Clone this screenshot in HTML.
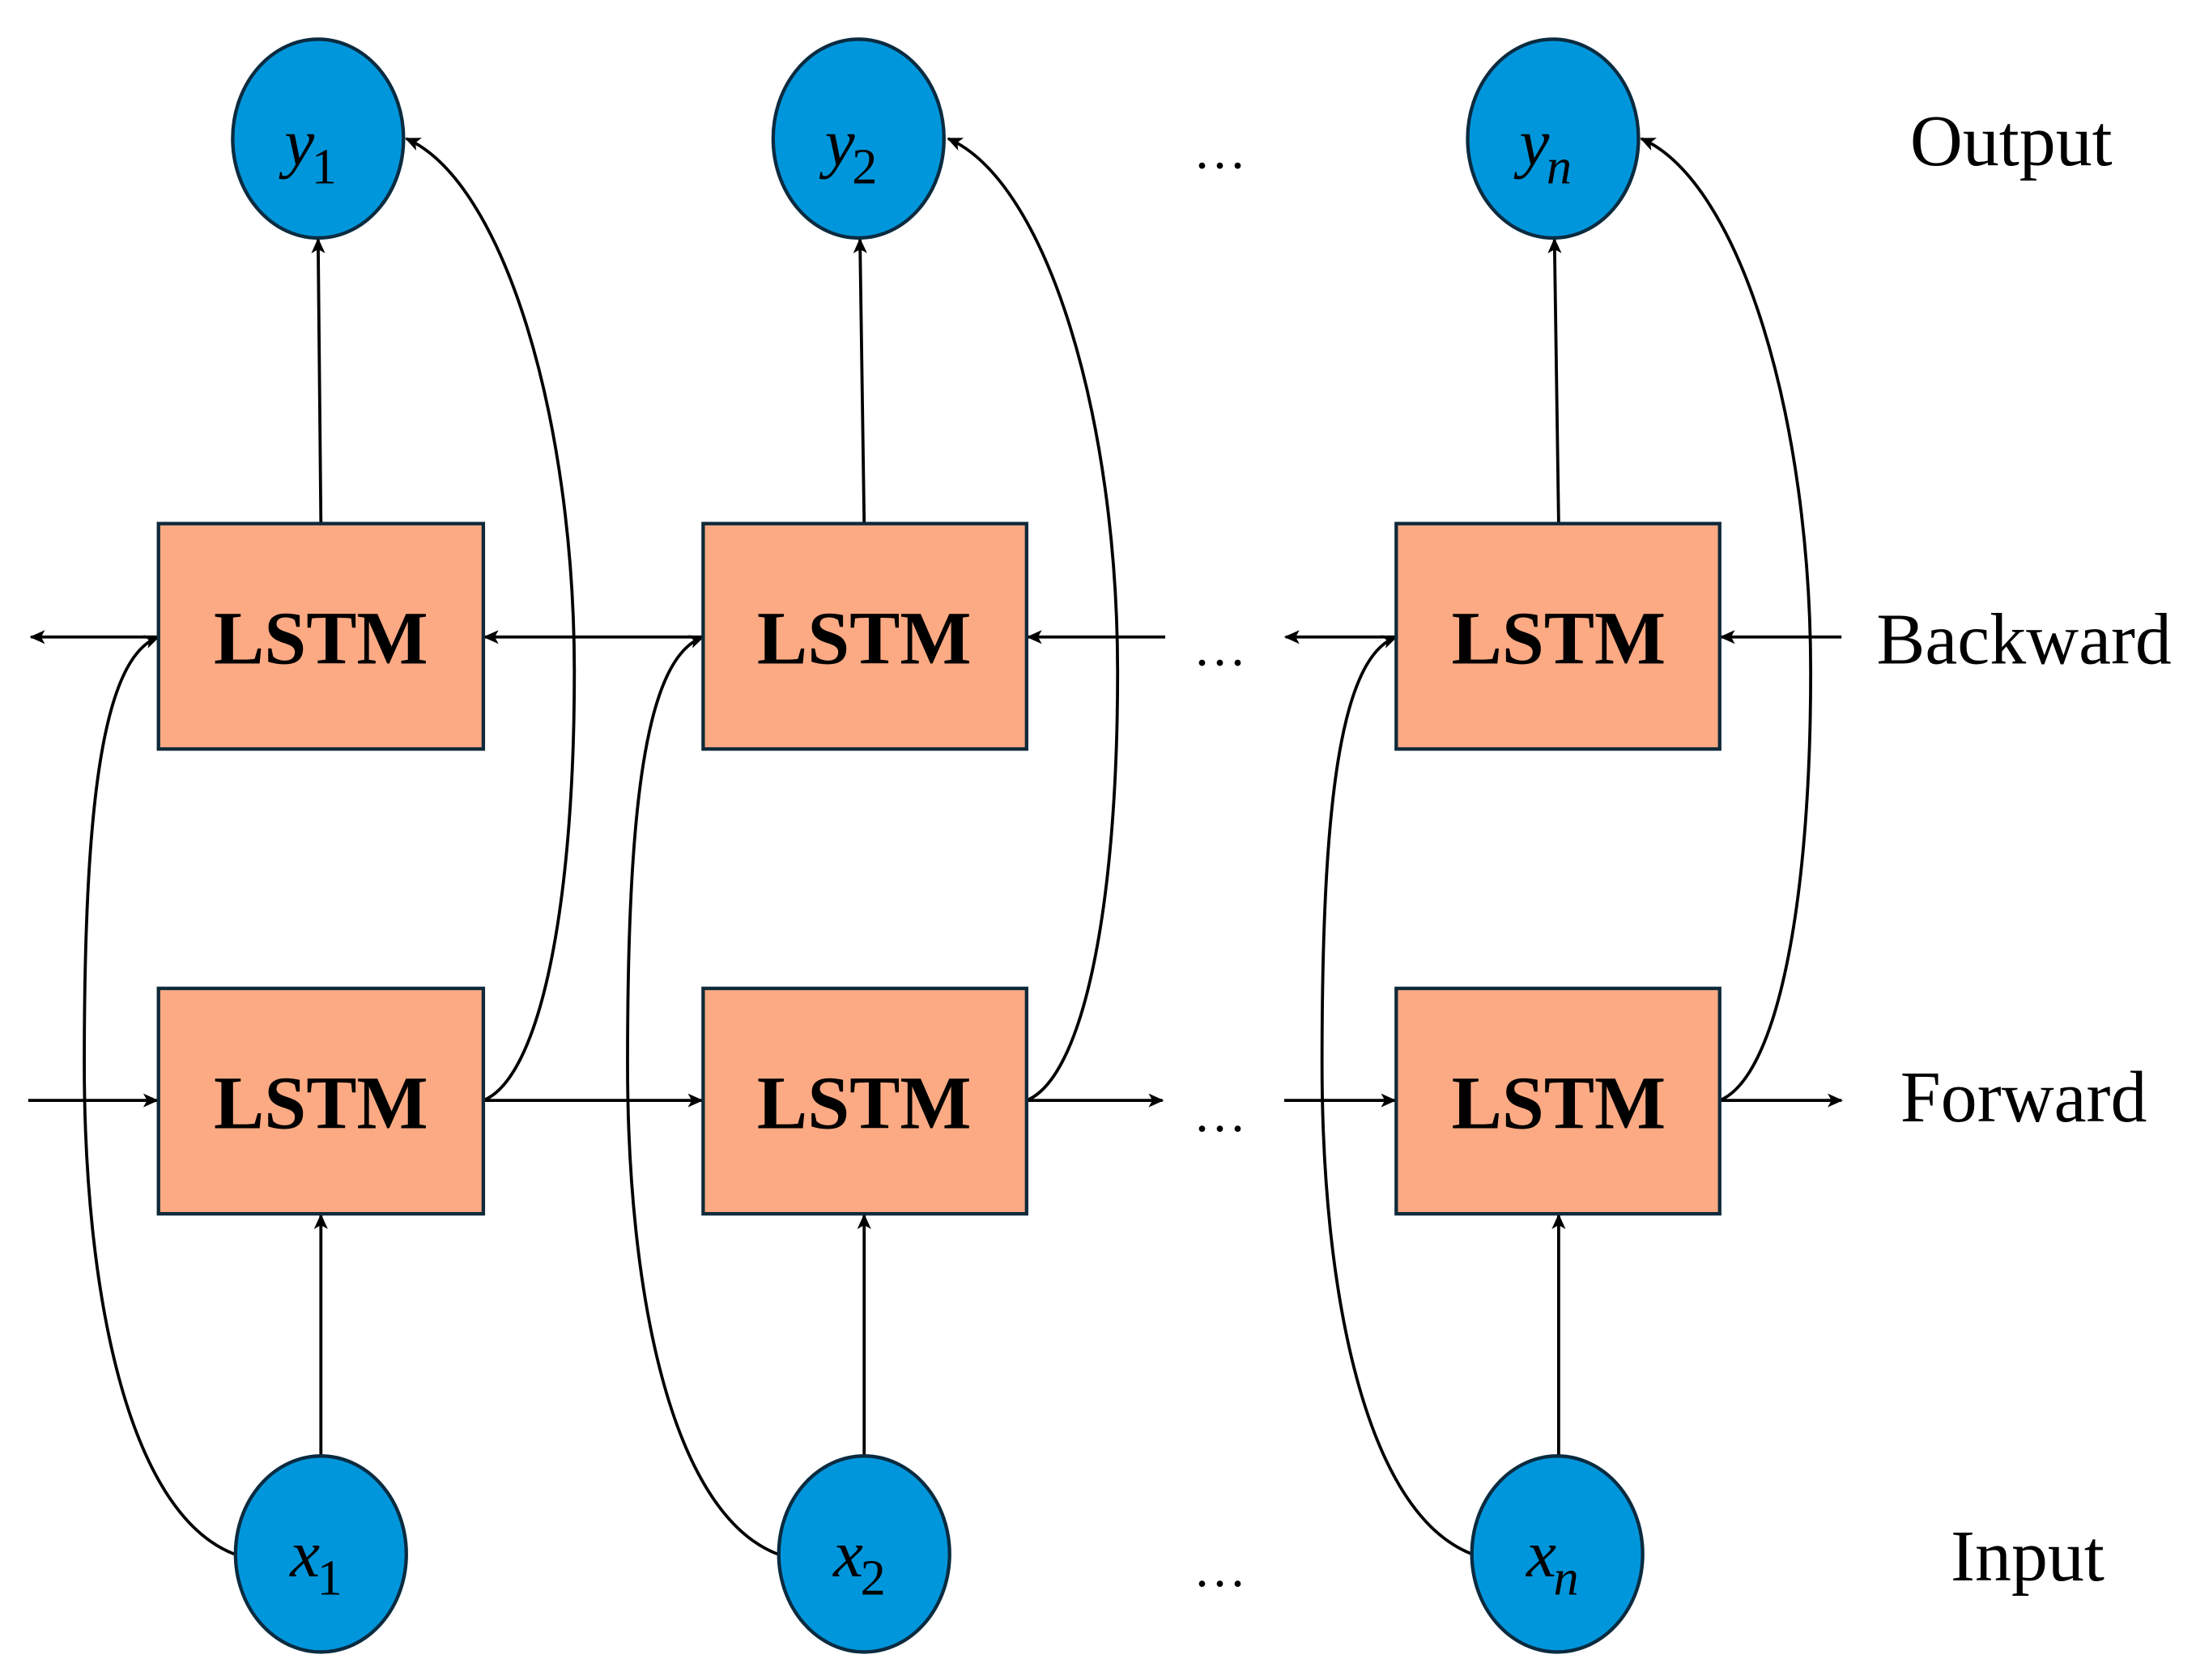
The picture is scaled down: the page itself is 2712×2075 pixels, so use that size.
<!DOCTYPE html>
<html><head><meta charset="utf-8"><style>html,body{margin:0;padding:0;background:#fff}svg{display:block}</style></head>
<body>
<svg width="2712" height="2075" viewBox="0 0 1568 1200" xmlns="http://www.w3.org/2000/svg" font-family="'Liberation Serif', serif">
<defs>
<marker id="a" viewBox="0 0 10 10" refX="9" refY="5" markerWidth="11" markerHeight="11" orient="auto-start-reverse" markerUnits="userSpaceOnUse">
<path d="M0,0.5 L10,5 L0,9.5 L2.5,5 z" fill="#000"/></marker>
</defs>
<rect width="1568" height="1200" fill="#fff"/>
<g stroke="#000" stroke-width="2.2" fill="none" marker-end="url(#a)">
<path d="M229,374 L227,171"/><path d="M617,374 L614,171"/><path d="M1113,374 L1110,171"/>
<path d="M229,1040 L229,868"/><path d="M617,1040 L617,868"/><path d="M1113,1040 L1113,868"/>
<path d="M20,786 L112,786"/><path d="M345,786 L501,786"/><path d="M733,786 L830,786"/><path d="M917,786 L996,786"/><path d="M1228,786 L1315,786"/>
<path d="M113,455 L22,455"/><path d="M502,455 L346,455"/><path d="M832,455 L734,455"/><path d="M997,455 L918,455"/><path d="M1315,455 L1229,455"/>
<path d="M345,786 C385,770 410,650 410,480 C410,300 360,130 290,99"/>
<path d="M733,786 C773,770 798,650 798,480 C798,300 748,130 677,99"/>
<path d="M1228,786 C1268,770 1293,650 1293,480 C1293,300 1243,130 1172,99"/>
<path d="M167,1110 C90,1080 60,920 60,760 C60,580 72,470 113,455"/>
<path d="M555,1110 C478,1080 448,920 448,760 C448,580 460,470 502,455"/>
<path d="M1051,1110 C974,1080 944,920 944,760 C944,580 956,470 997,455"/>
</g>
<g fill="#FCAA84" stroke="#0f2a3a" stroke-width="2.5">
<rect x="113" y="374" width="232" height="161"/><rect x="502" y="374" width="231" height="161"/><rect x="997" y="374" width="231" height="161"/>
<rect x="113" y="706" width="232" height="161"/><rect x="502" y="706" width="231" height="161"/><rect x="997" y="706" width="231" height="161"/>
</g>
<g font-weight="bold" font-size="54" text-anchor="middle" fill="#000">
<text x="229" y="474">LSTM</text><text x="617" y="474">LSTM</text><text x="1113" y="474">LSTM</text>
<text x="229" y="806">LSTM</text><text x="617" y="806">LSTM</text><text x="1113" y="806">LSTM</text>
</g>
<g fill="#0096DB" stroke="#0b2b40" stroke-width="2.5">
<ellipse cx="227" cy="99" rx="61" ry="71"/><ellipse cx="613" cy="99" rx="61" ry="71"/><ellipse cx="1109" cy="99" rx="61" ry="71"/>
<ellipse cx="229" cy="1110" rx="61" ry="70"/><ellipse cx="617" cy="1110" rx="61" ry="70"/><ellipse cx="1112" cy="1110" rx="61" ry="70"/>
</g>
<g fill="#000" font-size="48">
<text x="203" y="118" font-style="italic">y<tspan font-style="normal" font-size="36" dy="13" dx="-2">1</tspan></text>
<text x="589" y="118" font-style="italic">y<tspan font-style="normal" font-size="36" dy="13" dx="-2">2</tspan></text>
<text x="1085" y="118" font-style="italic">y<tspan font-size="36" dy="13" dx="-2">n</tspan></text>
<text x="207" y="1126" font-style="italic">x<tspan font-style="normal" font-size="36" dy="13" dx="-2">1</tspan></text>
<text x="595" y="1126" font-style="italic">x<tspan font-style="normal" font-size="36" dy="13" dx="-2">2</tspan></text>
<text x="1090" y="1126" font-style="italic">x<tspan font-size="36" dy="13" dx="-2">n</tspan></text>
</g>
<g fill="#000" font-size="52">
<text x="1364" y="118">Output</text>
<text x="1340" y="474">Backward</text>
<text x="1357" y="801">Forward</text>
<text x="1393" y="1129">Input</text>
</g>
<g fill="#000" font-size="38">
<text x="852" y="120">…</text><text x="852" y="475">…</text><text x="852" y="808">…</text><text x="852" y="1133">…</text>
</g>
</svg>
</body></html>
